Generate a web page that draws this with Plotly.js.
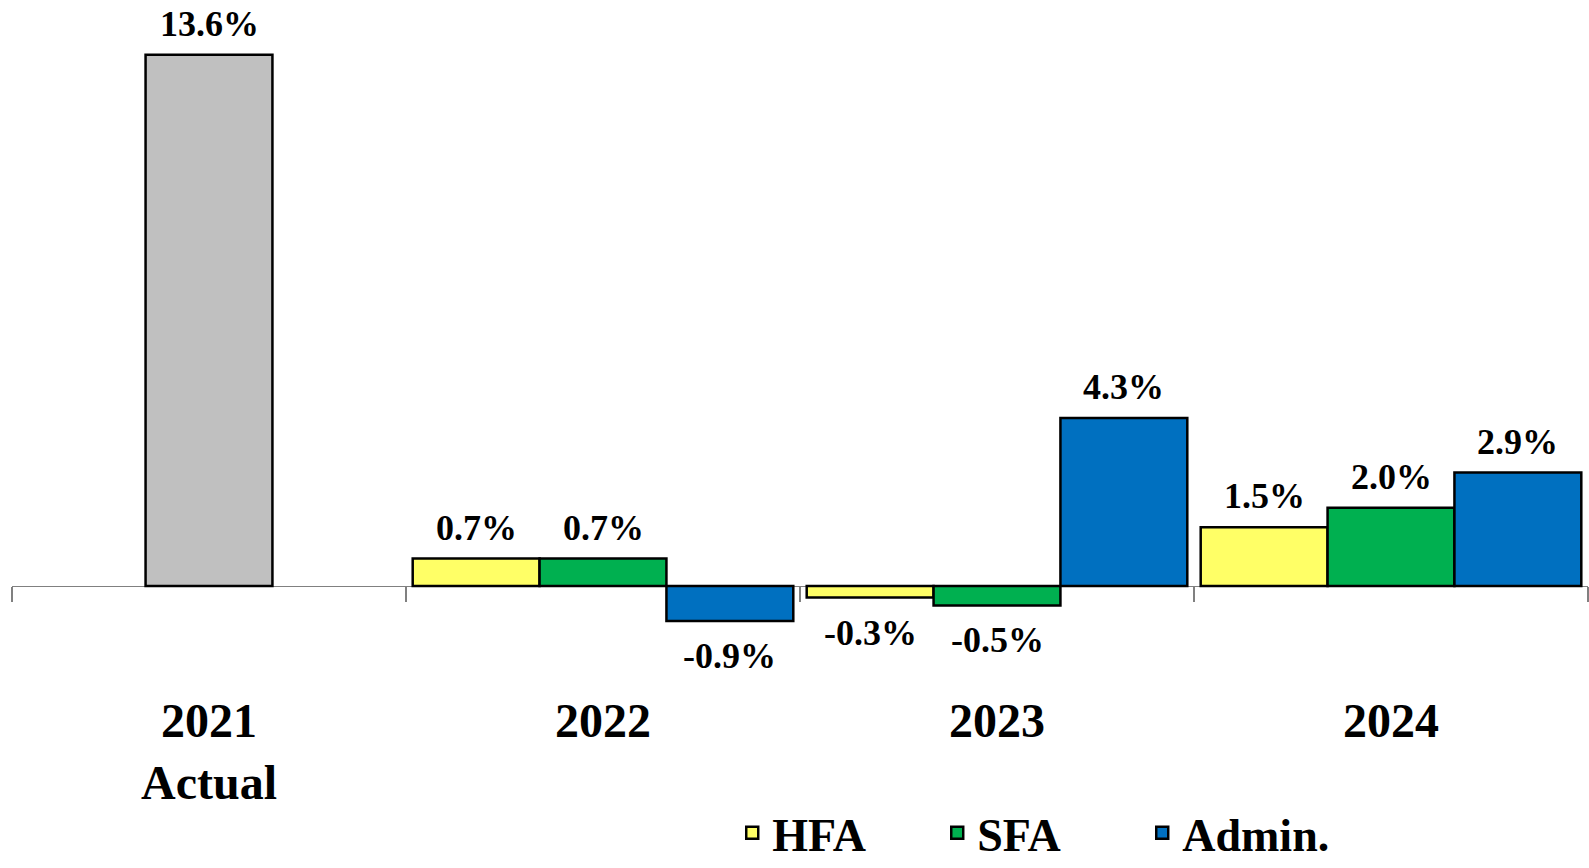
<!DOCTYPE html>
<html>
<head>
<meta charset="utf-8">
<script src="https://cdn.plot.ly/plotly-3.0.1.min.js"></script>
<style>html,body{margin:0;padding:0;background:#fff;}#chart{width:1589px;height:868px;}</style>
</head>
<body>
<div id="chart"></div>
<script>
// Data
var categories = ['2021<br>Actual', '2022', '2023', '2024'];
var actualCategory = ['2021<br>Actual'];
var actualValues = [13.6];
var forecastCategories = ['2022', '2023', '2024'];
var hfaValues = [0.7, -0.3, 1.5];
var sfaValues = [0.7, -0.5, 2.0];
var adminValues = [-0.9, 4.3, 2.9];

function fmt(v) { return v.toFixed(1) + '%'; }

var FONT = '"Liberation Serif", "Times New Roman", serif';
var labelFont = {family: FONT, size: 36, color: '#000', weight: 700};
var lineStyle = {color: '#000', width: 2.5};
var W = 0.322;

var series = [
  {name: 'HFA', x: forecastCategories, y: hfaValues, color: '#FFFF66', offset: -1.5 * W, legend: true},
  {name: 'SFA', x: forecastCategories, y: sfaValues, color: '#00B050', offset: -0.5 * W, legend: true},
  {name: 'Admin.', x: forecastCategories, y: adminValues, color: '#0070C0', offset: 0.5 * W, legend: true},
  {name: '2021 Actual', x: actualCategory, y: actualValues, color: '#C0C0C0', offset: -0.5 * W, legend: false}
];

var traces = [];
var annotations = [];
series.forEach(function (s) {
  traces.push({
    type: 'bar', x: s.x, y: s.y, name: s.name, showlegend: s.legend,
    width: W, offset: s.offset,
    marker: {color: s.color, line: lineStyle},
    hoverinfo: 'skip'
  });
  s.x.forEach(function (c, i) {
    var v = s.y[i];
    annotations.push({
      xref: 'x', yref: 'y',
      x: categories.indexOf(c) + s.offset + W / 2, y: v,
      text: fmt(v), showarrow: false,
      xanchor: 'center', yanchor: 'middle',
      yshift: v >= 0 ? 31 : -35,
      font: labelFont
    });
  });
});

var ymin = -2, ymax = 14.487;
var layout = {
  width: 1589, height: 868,
  margin: {l: 12, r: 1, t: 20, b: 204, autoexpand: false},
  paper_bgcolor: '#fff', plot_bgcolor: '#fff',
  barmode: 'overlay',
  showlegend: true,
  legend: {
    orientation: 'h', x: 0.457, xanchor: 'left', y: -0.262, yanchor: 'middle',
    font: {family: FONT, size: 46, color: '#000', weight: 700},
    entrywidth: 160, itemwidth: 30, bgcolor: 'rgba(0,0,0,0)'
  },
  annotations: annotations,
  xaxis: {
    type: 'category', categoryorder: 'array', categoryarray: categories,
    range: [-0.5, 3.5],
    anchor: 'free', position: (0 - ymin) / (ymax - ymin),
    showline: true, linecolor: '#808080', linewidth: 1.5,
    ticks: 'outside', tickson: 'boundaries', ticklen: 15, tickcolor: '#808080', tickwidth: 1.5,
    ticklabelstandoff: 92,
    tickfont: {family: FONT, size: 48, color: '#000', weight: 700},
    showgrid: false, zeroline: false, layer: 'below traces', fixedrange: true
  },
  yaxis: {
    range: [ymin, ymax], showgrid: false, zeroline: false, showticklabels: false,
    ticks: '', showline: false, fixedrange: true
  }
};

Plotly.newPlot('chart', traces, layout, {displayModeBar: false, staticPlot: true});
</script>
</body>
</html>
